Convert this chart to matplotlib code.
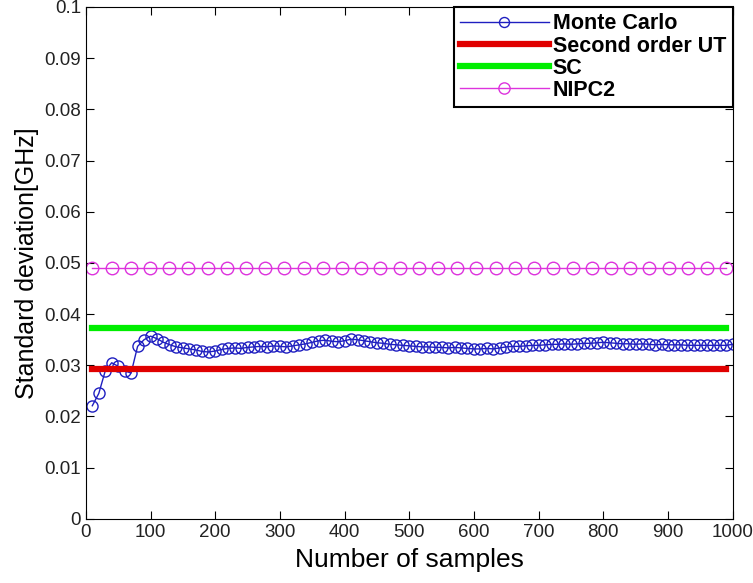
import numpy as np
import matplotlib.pyplot as plt

# Monte Carlo estimate, one point every 10 samples
mc_n = np.arange(10, 1001, 10)
mc_std = [0.0221, 0.0245, 0.0289, 0.0305, 0.0298, 0.0289, 0.0285, 0.0337, 0.0350, 0.0357,
          0.0352, 0.0345, 0.0340, 0.0336, 0.0334, 0.0332, 0.0330, 0.0327, 0.0326, 0.0328,
          0.0331, 0.0333, 0.0334, 0.0333, 0.0335, 0.0336, 0.0337, 0.0336, 0.0338, 0.0337,
          0.0336, 0.0338, 0.0340, 0.0342, 0.0345, 0.0348, 0.0349, 0.0347, 0.0346, 0.0348,
          0.0351, 0.0350, 0.0348, 0.0346, 0.0344, 0.0343, 0.0341, 0.0340, 0.0339, 0.0338,
          0.0337, 0.0336, 0.0336, 0.0335, 0.0335, 0.0334, 0.0335, 0.0334, 0.0333, 0.0332,
          0.0332, 0.0333, 0.0332, 0.0334, 0.0336, 0.0337, 0.0337, 0.0338, 0.0339, 0.0339,
          0.0340, 0.0341, 0.0341, 0.0342, 0.0341, 0.0342, 0.0343, 0.0343, 0.0344, 0.0345,
          0.0344, 0.0343, 0.0342, 0.0342, 0.0341, 0.0342, 0.0341, 0.0340, 0.0341, 0.0340,
          0.0340, 0.0340, 0.0339, 0.0339, 0.0339, 0.0339, 0.0339, 0.0339, 0.0339, 0.0341]

# reference methods are constant, drawn from 10 to 990
ref_n = np.linspace(10, 990, 34)
ut2_std = 0.0293
sc_std = 0.0372
nipc2_std = 0.0490

xticks = np.arange(0, 1001, 100)
yticks = np.arange(0, 0.1001, 0.01)
ytick_labels = ['0', '0.01', '0.02', '0.03', '0.04', '0.05', '0.06', '0.07', '0.08', '0.09', '0.1']

font = ['Liberation Sans', 'DejaVu Sans']

fig = plt.figure(figsize=(7.53, 5.83), dpi=100)
ax = fig.add_axes([0.114, 0.110, 0.859, 0.878])

ax.plot(mc_n, mc_std, '-o', color='#1f1fc0', lw=1, ms=8, mfc='none', mew=1,
        label='Monte Carlo')
ax.plot(ref_n, np.full(len(ref_n), ut2_std), '-', color='#e00000', lw=4.5,
        label='Second order UT')
ax.plot(ref_n, np.full(len(ref_n), sc_std), '-', color='#00ee00', lw=4.5, label='SC')
ax.plot(ref_n, np.full(len(ref_n), nipc2_std), '-o', color='#dd33dd', lw=1, ms=9,
        mfc='none', mew=1, label='NIPC2')

ax.set_xlim(0, 1000)
ax.set_ylim(0, 0.1)
ax.set_xticks(xticks)
ax.set_yticks(yticks)
ax.set_yticklabels(ytick_labels)
ax.tick_params(direction='in', top=True, right=True, length=6, labelsize=13.5)
for lab in ax.get_xticklabels() + ax.get_yticklabels():
    lab.set_family(font)
    lab.set_color('#222222')

ax.set_xlabel('Number of samples', fontsize=19, family=font, labelpad=5)
ax.set_ylabel('Standard deviation[GHz]', fontsize=18, family=font)

leg = ax.legend(loc='upper right', prop={'family': 'Liberation Sans', 'weight': 'bold', 'size': 15.5},
                fancybox=False, edgecolor='black', framealpha=1, borderaxespad=0.0,
                handlelength=4.1, handletextpad=0.2, labelspacing=0.05, borderpad=0.3,
                markerscale=0.9)
leg.get_frame().set_linewidth(1.5)

fig.savefig('out.png', dpi=100)
